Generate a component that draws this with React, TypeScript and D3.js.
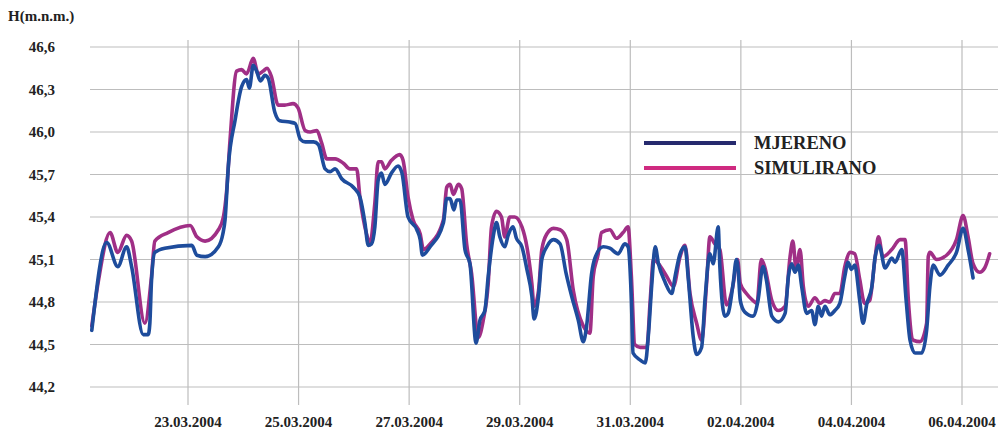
import React, { useEffect, useRef } from 'react';
import * as d3 from 'd3';

// day offset from 23.03.2004 00:00, water level H (m.n.m.)
const mjereno: [number, number][] = [
  [-1.74, 44.6], [-1.47, 45.22], [-1.27, 45.05], [-1.11, 45.19], [-1.02, 45.05], [-0.81, 44.57],
  [-0.72, 44.57], [-0.69, 44.65], [-0.66, 44.95], [-0.6, 45.15], [-0.42, 45.18], [0.07, 45.2],
  [0.16, 45.13], [0.31, 45.12], [0.55, 45.19], [0.63, 45.28], [0.67, 45.38], [0.73, 45.76],
  [0.85, 46.08], [0.97, 46.32], [1.06, 46.37], [1.11, 46.31], [1.18, 46.47], [1.24, 46.43],
  [1.31, 46.36], [1.39, 46.4], [1.45, 46.38], [1.57, 46.14], [1.66, 46.08], [1.84, 46.07],
  [1.94, 46.06], [2.03, 45.95], [2.12, 45.93], [2.27, 45.93], [2.36, 45.91], [2.48, 45.74],
  [2.57, 45.72], [2.66, 45.74], [2.78, 45.67], [2.99, 45.61], [3.11, 45.54], [3.2, 45.36],
  [3.26, 45.2], [3.32, 45.21], [3.38, 45.33], [3.44, 45.66], [3.5, 45.71], [3.56, 45.63],
  [3.68, 45.71], [3.8, 45.76], [3.87, 45.71], [3.98, 45.4], [4.14, 45.31], [4.2, 45.24],
  [4.24, 45.13], [4.38, 45.19], [4.62, 45.36], [4.68, 45.53], [4.74, 45.53], [4.81, 45.45],
  [4.86, 45.52], [4.92, 45.52], [5.01, 45.17], [5.1, 45.07], [5.21, 44.51], [5.28, 44.67],
  [5.37, 44.74], [5.43, 44.98], [5.52, 45.26], [5.58, 45.36], [5.64, 45.26], [5.73, 45.19],
  [5.79, 45.27], [5.88, 45.33], [5.94, 45.25], [6.04, 45.19], [6.13, 45.03], [6.22, 44.84],
  [6.26, 44.68], [6.34, 44.84], [6.4, 45.1], [6.49, 45.19], [6.61, 45.24], [6.73, 45.21],
  [6.84, 45.0], [6.94, 44.84], [7.06, 44.67], [7.15, 44.52], [7.21, 44.63], [7.3, 45.0],
  [7.36, 45.11], [7.51, 45.19], [7.63, 45.18], [7.78, 45.14], [7.9, 45.21], [7.96, 45.19],
  [8.02, 44.81], [8.05, 44.44], [8.18, 44.39], [8.27, 44.37], [8.33, 44.58], [8.39, 44.93],
  [8.45, 45.19], [8.51, 45.07], [8.63, 44.94], [8.75, 44.86], [8.81, 44.98], [8.9, 45.14],
  [8.99, 45.19], [9.05, 44.96], [9.14, 44.55], [9.2, 44.43], [9.29, 44.48], [9.35, 44.81],
  [9.44, 45.14], [9.5, 45.07], [9.59, 45.33], [9.62, 45.05], [9.71, 44.7], [9.77, 44.72],
  [9.86, 44.93], [9.92, 45.1], [9.95, 45.03], [9.99, 44.81], [10.07, 44.73], [10.22, 44.7],
  [10.31, 44.81], [10.4, 45.05], [10.46, 44.96], [10.56, 44.7], [10.68, 44.66], [10.8, 44.72],
  [10.86, 44.98], [10.92, 45.07], [10.98, 45.01], [11.04, 45.06], [11.1, 44.91], [11.19, 44.72],
  [11.28, 44.74], [11.34, 44.64], [11.4, 44.77], [11.46, 44.7], [11.52, 44.77], [11.61, 44.71],
  [11.7, 44.74], [11.79, 44.79], [11.88, 44.98], [11.94, 45.08], [12.0, 45.03], [12.06, 45.06],
  [12.15, 44.81], [12.21, 44.65], [12.28, 44.79], [12.37, 44.91], [12.43, 45.12], [12.5, 45.2],
  [12.61, 45.04], [12.73, 45.11], [12.79, 45.08], [12.91, 45.17], [12.99, 44.81], [13.06, 44.53],
  [13.15, 44.44], [13.27, 44.44], [13.36, 44.6], [13.42, 44.91], [13.48, 45.06], [13.6, 44.99],
  [13.75, 45.06], [13.9, 45.15], [14.02, 45.32], [14.11, 45.17], [14.2, 44.97],
];

const simulirano: [number, number][] = [
  [-1.74, 44.63], [-1.62, 44.95], [-1.41, 45.29], [-1.27, 45.15], [-1.11, 45.27], [-1.02, 45.23],
  [-0.78, 44.65], [-0.66, 44.98], [-0.6, 45.23], [-0.36, 45.29], [0.04, 45.34], [0.16, 45.26],
  [0.31, 45.23], [0.55, 45.31], [0.64, 45.4], [0.7, 45.59], [0.76, 45.94], [0.88, 46.43],
  [0.97, 46.44], [1.06, 46.41], [1.18, 46.52], [1.27, 46.41], [1.36, 46.43], [1.43, 46.45],
  [1.51, 46.39], [1.63, 46.19], [1.75, 46.19], [1.9, 46.2], [1.99, 46.17], [2.12, 46.01],
  [2.21, 46.0], [2.33, 46.01], [2.42, 45.92], [2.51, 45.81], [2.66, 45.81], [2.81, 45.78],
  [2.93, 45.74], [3.05, 45.74], [3.11, 45.54], [3.23, 45.28], [3.29, 45.21], [3.38, 45.5],
  [3.44, 45.79], [3.5, 45.79], [3.56, 45.74], [3.68, 45.8], [3.83, 45.84], [3.89, 45.8],
  [3.98, 45.54], [4.07, 45.38], [4.2, 45.28], [4.26, 45.17], [4.38, 45.21], [4.62, 45.38],
  [4.68, 45.61], [4.74, 45.63], [4.8, 45.56], [4.89, 45.63], [4.95, 45.6], [5.04, 45.21],
  [5.13, 45.0], [5.25, 44.55], [5.34, 44.67], [5.43, 44.93], [5.49, 45.33], [5.58, 45.44],
  [5.67, 45.4], [5.73, 45.26], [5.82, 45.4], [5.91, 45.4], [6.04, 45.33], [6.13, 45.19],
  [6.22, 44.93], [6.26, 44.77], [6.34, 44.88], [6.4, 45.17], [6.49, 45.28], [6.61, 45.32],
  [6.73, 45.31], [6.85, 45.24], [6.97, 44.88], [7.15, 44.63], [7.27, 44.58], [7.33, 44.98],
  [7.42, 45.14], [7.48, 45.29], [7.63, 45.31], [7.75, 45.25], [7.87, 45.29], [7.96, 45.33],
  [8.02, 44.98], [8.08, 44.5], [8.18, 44.48], [8.3, 44.48], [8.36, 44.81], [8.42, 45.1],
  [8.51, 45.07], [8.66, 44.98], [8.78, 44.91], [8.9, 45.12], [8.99, 45.2], [9.08, 44.86],
  [9.2, 44.65], [9.29, 44.53], [9.38, 44.93], [9.44, 45.26], [9.53, 45.21], [9.62, 45.17],
  [9.74, 44.78], [9.85, 44.9], [9.94, 45.1], [9.99, 44.93], [10.1, 44.86], [10.22, 44.81],
  [10.29, 44.79], [10.37, 45.1], [10.43, 45.05], [10.56, 44.81], [10.68, 44.74], [10.8, 44.77],
  [10.89, 45.12], [10.94, 45.23], [11.0, 45.03], [11.07, 45.17], [11.13, 44.91], [11.22, 44.77],
  [11.34, 44.83], [11.43, 44.79], [11.52, 44.81], [11.61, 44.8], [11.7, 44.86], [11.79, 44.86],
  [11.88, 45.05], [11.98, 45.15], [12.06, 45.14], [12.15, 44.96], [12.24, 44.79], [12.33, 44.81],
  [12.43, 45.12], [12.49, 45.26], [12.57, 45.12], [12.73, 45.17], [12.88, 45.24], [12.97, 45.24],
  [13.03, 44.81], [13.12, 44.53], [13.24, 44.52], [13.36, 44.65], [13.39, 45.12], [13.42, 45.15],
  [13.54, 45.1], [13.72, 45.13], [13.9, 45.24], [14.02, 45.41], [14.11, 45.26], [14.2, 45.07],
  [14.32, 45.01], [14.41, 45.04], [14.5, 45.14],
];

const xTickLabels = [
  '23.03.2004', '25.03.2004', '27.03.2004', '29.03.2004',
  '31.03.2004', '02.04.2004', '04.04.2004', '06.04.2004',
];
const yTicks = [44.2, 44.5, 44.8, 45.1, 45.4, 45.7, 46.0, 46.3, 46.6];

const series = [
  { name: 'MJERENO', data: mjereno, color: '#1e4c9c', legendColor: '#262a6e' },
  { name: 'SIMULIRANO', data: simulirano, color: '#a02f86', legendColor: '#cf2a80' },
];

const FONT = '"Liberation Serif", "Times New Roman", serif';

const WaterLevelChart: React.FC = () => {
  const ref = useRef<SVGSVGElement>(null);

  useEffect(() => {
    if (!ref.current) return;
    const svg = d3.select(ref.current);
    svg.selectAll('*').remove();

    const width = 1005;
    const height = 432;
    svg.attr('width', width).attr('height', height);

    const t0 = Date.UTC(2004, 2, 23);
    const parse = d3.utcParse('%d.%m.%Y');
    const toDate = (d: number) => new Date(t0 + d * 864e5);

    const x = d3.scaleUtc()
      .domain([new Date(t0), parse('06.04.2004') as Date])
      .range([188, 962]);
    const y = d3.scaleLinear().domain([44.2, 46.6]).range([387, 47]);

    const gridLeft = 90;
    const gridRight = 998;
    const gridTop = 40;
    const gridBottom = 405;

    // horizontal grid
    svg.append('g')
      .selectAll('line')
      .data(yTicks)
      .enter()
      .append('line')
      .attr('x1', gridLeft)
      .attr('x2', gridRight)
      .attr('y1', d => y(d))
      .attr('y2', d => y(d))
      .attr('stroke', '#bdbdbd')
      .attr('stroke-width', 1.2);

    // vertical grid
    const xTicks = xTickLabels.map(s => parse(s) as Date);
    svg.append('g')
      .selectAll('line')
      .data(xTicks)
      .enter()
      .append('line')
      .attr('x1', d => x(d))
      .attr('x2', d => x(d))
      .attr('y1', gridTop)
      .attr('y2', gridBottom)
      .attr('stroke', '#bdbdbd')
      .attr('stroke-width', 1.2);

    // y labels
    const fmt = d3.formatLocale({ decimal: ',', thousands: '.', grouping: [3], currency: ['', ''] }).format('.1f');
    svg.append('g')
      .selectAll('text')
      .data(yTicks)
      .enter()
      .append('text')
      .attr('x', 55)
      .attr('y', d => y(d) + 5)
      .attr('text-anchor', 'end')
      .style('font-family', FONT)
      .style('font-weight', 'bold')
      .style('font-size', '15px')
      .attr('fill', '#222')
      .text(d => fmt(d));

    svg.append('text')
      .attr('x', 8)
      .attr('y', 21)
      .style('font-family', FONT)
      .style('font-weight', 'bold')
      .style('font-size', '15px')
      .attr('fill', '#222')
      .text('H(m.n.m.)');

    // x labels
    svg.append('g')
      .selectAll('text')
      .data(xTicks)
      .enter()
      .append('text')
      .attr('x', d => x(d))
      .attr('y', 427)
      .attr('text-anchor', 'middle')
      .style('font-family', FONT)
      .style('font-weight', 'bold')
      .style('font-size', '15px')
      .attr('fill', '#222')
      .text((_, i) => xTickLabels[i]);

    // lines (simulated first, measured on top)
    const line = d3.line<[number, number]>()
      .x(d => x(toDate(d[0])))
      .y(d => y(d[1]))
      .curve(d3.curveMonotoneX);

    [series[1], series[0]].forEach(s => {
      svg.append('path')
        .datum(s.data)
        .attr('d', line)
        .attr('fill', 'none')
        .attr('stroke', s.color)
        .attr('stroke-width', 3.6)
        .attr('stroke-linejoin', 'round')
        .attr('stroke-linecap', 'round');
    });

    // legend
    const legend = svg.append('g').attr('transform', 'translate(644, 143)');
    series.forEach((s, i) => {
      legend.append('line')
        .attr('x1', 0)
        .attr('x2', 92)
        .attr('y1', i * 25)
        .attr('y2', i * 25)
        .attr('stroke', s.legendColor)
        .attr('stroke-width', 4);
      legend.append('text')
        .attr('x', 110)
        .attr('y', i * 25 + 6)
        .style('font-family', FONT)
        .style('font-weight', 'bold')
        .style('font-size', '18.5px')
        .attr('fill', '#222')
        .text(s.name);
    });
  }, []);

  return <svg ref={ref} style={{ position: 'absolute', left: 0, top: 0, background: '#fff' }} />;
};

export default function App() {
  return <WaterLevelChart />;
}
